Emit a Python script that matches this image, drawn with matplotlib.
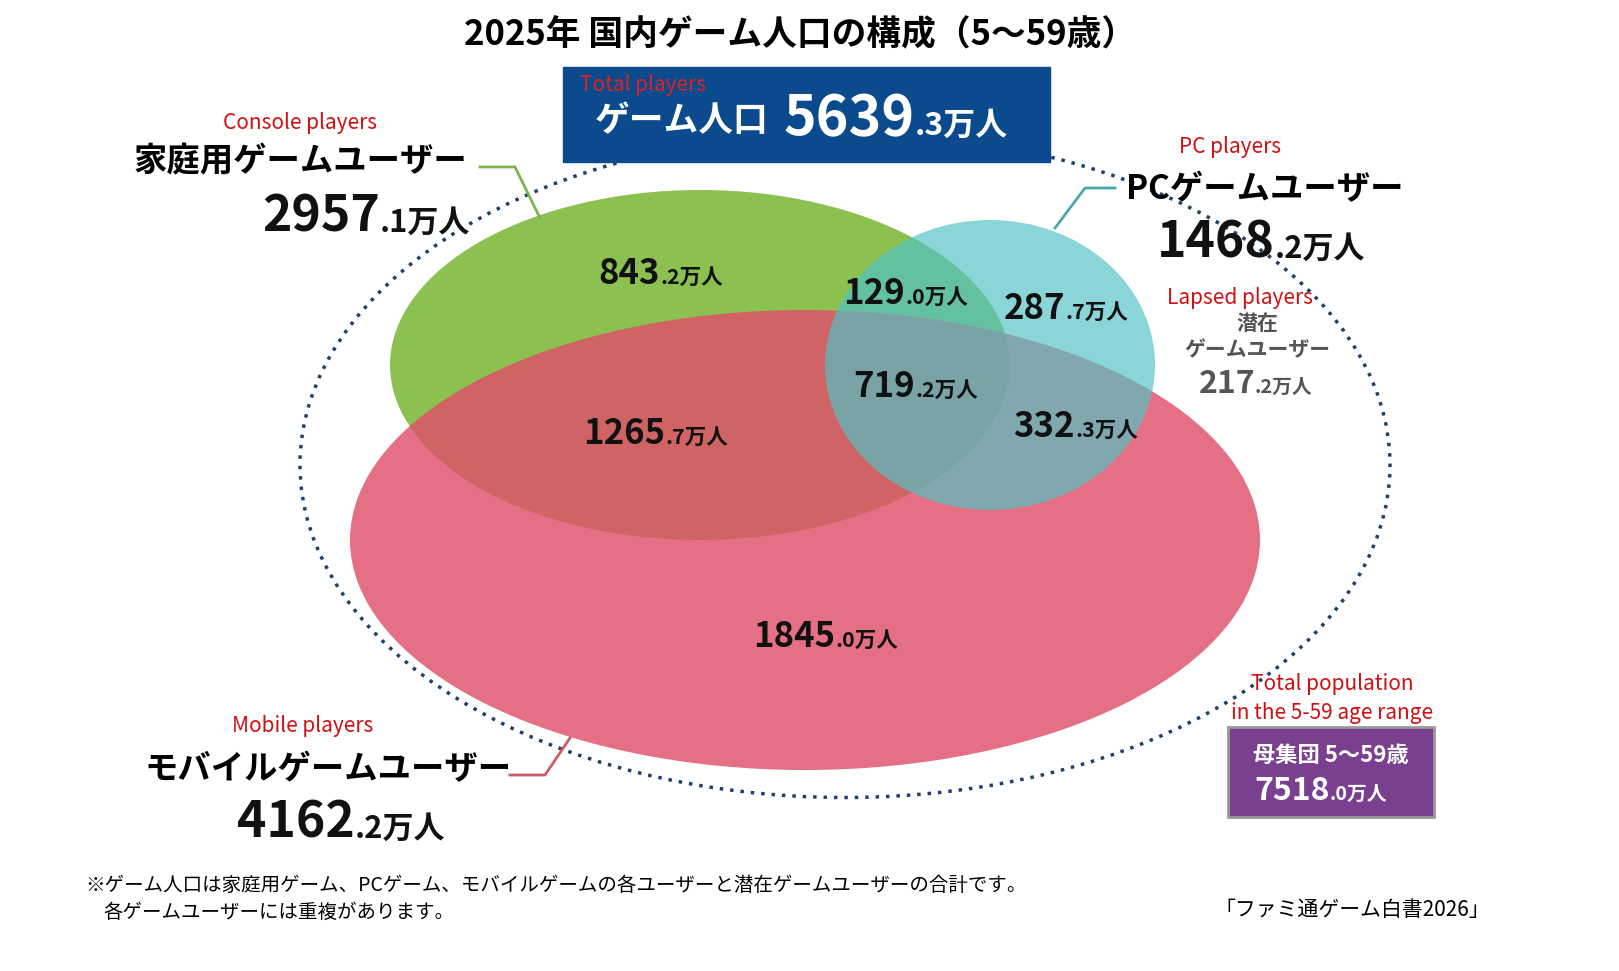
import matplotlib.pyplot as plt
from matplotlib.patches import Ellipse, Rectangle

plt.rcParams['font.family'] = ['Noto Sans CJK JP', 'DejaVu Sans']

# data
region_values = ["843.2", "129.0", "287.7", "719.2", "1265.7", "332.3", "1845.0"]
region_pos = [(660, 272), (905, 292), (1065, 307), (915, 385), (665, 432), (1075, 425), (835, 635)]
group_names = ["家庭用ゲームユーザー", "PCゲームユーザー", "モバイルゲームユーザー"]
group_en = ["Console players", "PC players", "Mobile players"]
group_totals = ["2957.1", "1468.2", "4162.2"]
lapsed = "217.2"
total_players = "5639.3"
population = "7518.0"

def split(v):
    a, b = v.split(".")
    return a, "." + b

fig = plt.figure(figsize=(16.19, 9.71), dpi=100)
ax = fig.add_axes([0, 0, 1, 1])
ax.set_xlim(0, 1619)
ax.set_ylim(971, 0)
ax.axis('off')

ax.add_patch(Ellipse((700, 365), 620, 350, color='#8cc152', lw=0))
ax.add_patch(Ellipse((805, 540), 910, 460, color='#e0506a', alpha=0.82, lw=0))
ax.add_patch(Ellipse((990, 365), 330, 290, color='#52c2c4', alpha=0.68, lw=0))
ax.add_patch(Ellipse((845, 465), 1090, 665, fill=False, ec='#1f3f6e', lw=2.5, ls=(0, (1, 2))))

def num(x, y, v, size, color='#111'):
    a, b = split(v)
    ax.text(x, y, a, fontsize=size, fontweight='bold', color=color, ha='right', va='baseline')
    ax.text(x, y, b + "万人", fontsize=size * 0.62, fontweight='bold', color=color, ha='left', va='baseline')

for (x, y), v in zip(region_pos, region_values):
    num(x, y + 12, v, 25)

ax.text(800, 35, "2025年 国内ゲーム人口の構成（5〜59歳）", fontsize=25, fontweight='bold', ha='center', va='center')
ax.add_patch(Rectangle((563, 67), 487, 95, color='#0b4a8c'))
ax.text(580, 85, "Total players", fontsize=15, color='#e02020', va='center')
ax.text(595, 120, "ゲーム人口", fontsize=25, fontweight='bold', color='white', va='center')
ax.text(915, 135, "5639", fontsize=40, fontweight='bold', color='white', ha='right', va='baseline')
ax.text(915, 135, ".3万人", fontsize=23, fontweight='bold', color='white', ha='left', va='baseline')

# group labels
ax.text(300, 123, group_en[0], fontsize=15, color='#d01010', ha='center', va='center')
ax.text(300, 162, group_names[0], fontsize=24, fontweight='bold', ha='center', va='center')
num(380, 232, group_totals[0], 36)
ax.plot([480, 515, 540], [167, 167, 218], color='#7fb34e', lw=2)

ax.text(1230, 147, group_en[1], fontsize=15, color='#d01010', ha='center', va='center')
ax.text(1265, 190, group_names[1], fontsize=24, fontweight='bold', ha='center', va='center')
num(1275, 258, group_totals[1], 36)
ax.plot([1115, 1085, 1055], [188, 188, 228], color='#4aa8ac', lw=2)

ax.text(303, 726, group_en[2], fontsize=15, color='#d01010', ha='center', va='center')
ax.text(328, 770, group_names[2], fontsize=24, fontweight='bold', ha='center', va='center')
num(355, 838, group_totals[2], 36)
ax.plot([510, 545, 570], [775, 775, 738], color='#d05a6a', lw=2)

ax.text(1240, 298, "Lapsed players", fontsize=15, color='#d01010', ha='center', va='center')
ax.text(1257, 324, "潜在", fontsize=15, fontweight='bold', color='#555', ha='center', va='center')
ax.text(1257, 350, "ゲームユーザー", fontsize=15, fontweight='bold', color='#555', ha='center', va='center')
num(1255, 393, lapsed, 23, color='#555')

ax.text(1332, 684, "Total population", fontsize=15, color='#d01010', ha='center', va='center')
ax.text(1332, 713, "in the 5-59 age range", fontsize=15, color='#d01010', ha='center', va='center')
ax.add_patch(Rectangle((1228, 727), 206, 90, fc='#7a3f8f', ec='#999', lw=2))
ax.text(1331, 755, "母集団 5〜59歳", fontsize=16, fontweight='bold', color='white', ha='center', va='center')
num(1330, 800, population, 23, color='white')

ax.text(85, 885, "※ゲーム人口は家庭用ゲーム、PCゲーム、モバイルゲームの各ユーザーと潜在ゲームユーザーの合計です。",
        fontsize=14, va='center')
ax.text(103, 912, "各ゲームユーザーには重複があります。", fontsize=14, va='center')
ax.text(1490, 910, "「ファミ通ゲーム白書2026」", fontsize=15, ha='right', va='center')

fig.savefig("out.png", dpi=100, facecolor='white')
